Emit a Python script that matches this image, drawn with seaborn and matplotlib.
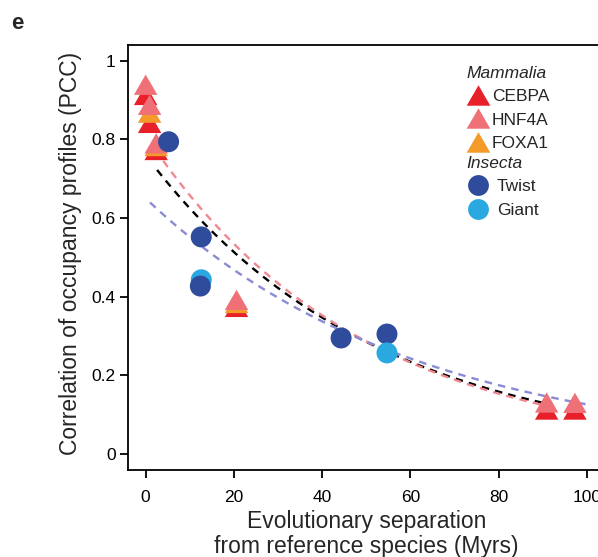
import numpy as np
import pandas as pd
import matplotlib
matplotlib.use("Agg")
import matplotlib.pyplot as plt
import seaborn as sns
from matplotlib.lines import Line2D

sns.set_style("ticks")
plt.rcParams['font.family'] = ['Liberation Sans', 'DejaVu Sans']

# ---- data ----
cebpa_x = [0.0, 0.9, 2.4, 20.6, 90.9, 97.3]
cebpa_y = [0.913, 0.842, 0.773, 0.374, 0.113, 0.113]
foxa1_x = [0.9, 2.4, 20.6]
foxa1_y = [0.868, 0.783, 0.384]
hnf4a_x = [0.0, 0.9, 2.4, 20.6, 90.9, 97.3]
hnf4a_y = [0.939, 0.888, 0.790, 0.392, 0.131, 0.130]
twist_x = [5.2, 12.6, 12.4, 44.3, 54.7]
twist_y = [0.794, 0.552, 0.427, 0.295, 0.305]
giant_x = [12.6, 54.7]
giant_y = [0.443, 0.257]

# exponential fits y = a * exp(-b x)  (parameters)
fit_all = (0.76, 0.0196, 2.6, 91.0)
fit_mammalia = (0.81, 0.0208, 4.0, 91.0)
fit_insecta = (0.65, 0.0164, 1.0, 100.0)

x_ticks = [0, 20, 40, 60, 80, 100]
y_ticks = [0, 0.2, 0.4, 0.6, 0.8, 1.0]
y_ticklabels = ["0", "0.2", "0.4", "0.6", "0.8", "1"]

colors = {"CEBPA": "#E8202A", "HNF4A": "#F07078", "FOXA1": "#F39A2A",
          "Twist": "#2F4B9B", "Giant": "#2AA9E0"}
line_colors = {"all": "black", "mammalia": "#F08890", "insecta": "#8A8AD6"}

tri = [(-1, -0.866), (1, -0.866), (0, 0.866)]

# ---- build tables ----
mam = pd.concat([
    pd.DataFrame({"x": cebpa_x, "y": cebpa_y, "tf": "CEBPA"}),
    pd.DataFrame({"x": foxa1_x, "y": foxa1_y, "tf": "FOXA1"}),
    pd.DataFrame({"x": hnf4a_x, "y": hnf4a_y, "tf": "HNF4A"}),
], ignore_index=True)
ins = pd.concat([
    pd.DataFrame({"x": giant_x[:1], "y": giant_y[:1], "tf": "Giant"}),
    pd.DataFrame({"x": twist_x, "y": twist_y, "tf": "Twist"}),
    pd.DataFrame({"x": giant_x[1:], "y": giant_y[1:], "tf": "Giant"}),
], ignore_index=True)

fig = plt.figure(figsize=(5.98, 5.57), dpi=100)
ax = fig.add_axes([0.21405, 0.1562, 0.7968, 0.7630])

for key, (a, b, x0, x1) in zip(["all", "mammalia", "insecta"],
                               [fit_all, fit_mammalia, fit_insecta]):
    xs = np.linspace(x0, x1, 200)
    sns.lineplot(x=xs, y=a * np.exp(-b * xs), ax=ax, color=line_colors[key],
                 lw=1.7, dashes=False, zorder=1)
for l in ax.get_lines():
    l.set_dashes((3.2, 2.6))

sns.scatterplot(data=mam, x="x", y="y", hue="tf", palette=colors, marker=tri,
                s=285, linewidth=0, legend=False, ax=ax, zorder=2)
sns.scatterplot(data=ins, x="x", y="y", hue="tf", palette=colors, marker="o",
                s=228, linewidth=0, legend=False, ax=ax, zorder=3)

ax.set_xlim(-4, 104)
ax.set_ylim(-0.0407, 1.04)
ax.set_xticks(x_ticks)
ax.set_xticklabels([str(v) for v in x_ticks])
ax.set_yticks(y_ticks)
ax.set_yticklabels(y_ticklabels)
ax.tick_params(direction="out", length=6, width=1.3, labelsize=12.5, pad=3,
               color="black", labelcolor="black")
ax.tick_params(axis="x", pad=8.5)
for s in ax.spines.values():
    s.set_linewidth(1.3)
    s.set_color("black")

ax.set_xlabel("Evolutionary separation\nfrom reference species (Myrs)",
              fontsize=16.5, linespacing=1.15)
ax.set_ylabel("Correlation of occupancy profiles (PCC)", fontsize=16.5)
ax.xaxis.set_label_coords(0.5, -0.093)
ax.yaxis.set_label_coords(-0.097, 0.51)

fig.text(0.029, 0.957, "e", fontsize=16, fontweight="bold", va="center",
         ha="center")

# legends
def h(name, marker, ms):
    return Line2D([], [], ls="none", marker=marker, markersize=ms,
                  markerfacecolor=colors[name], markeredgewidth=0)

common = dict(title_fontproperties={"style": "italic", "size": 12.5},
              alignment="left", frameon=False, fontsize=12.5, loc="upper left",
              borderpad=0, borderaxespad=0, handlelength=1.3,
              labelspacing=0.46)
leg1 = ax.legend([h("CEBPA", tri, 17), h("HNF4A", tri, 17), h("FOXA1", tri, 17)],
                 ["CEBPA", "HNF4A", "FOXA1"], title="Mammalia",
                 bbox_to_anchor=(0.7105, 0.95), handletextpad=0.15, **common)
ax.add_artist(leg1)
leg2 = ax.legend([h("Twist", "o", 15), h("Giant", "o", 15)],
                 ["Twist", "Giant"], title="Insecta",
                 bbox_to_anchor=(0.7105, 0.738), handletextpad=0.45, **common)

fig.savefig("out.png", dpi=100)
